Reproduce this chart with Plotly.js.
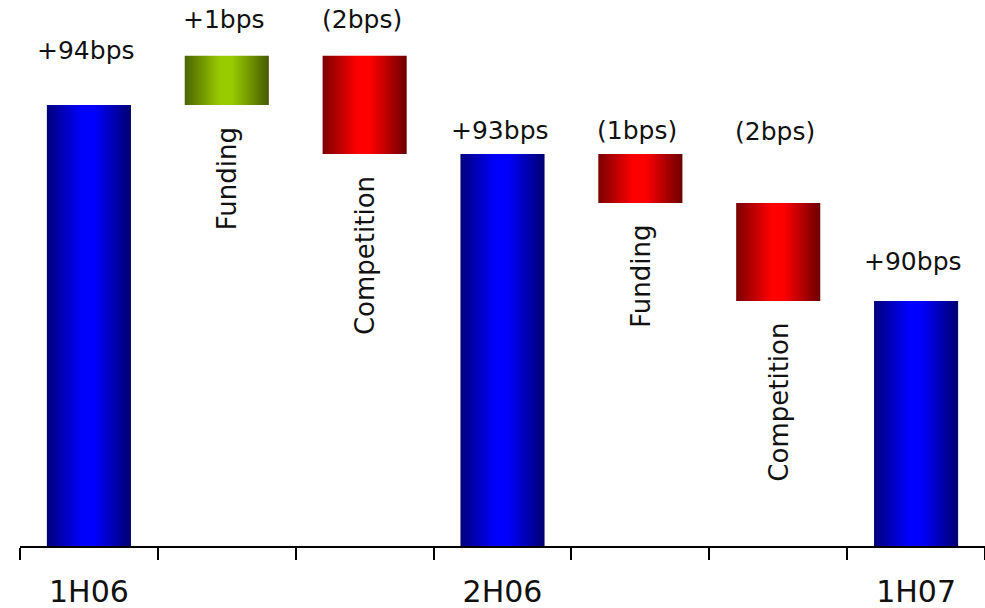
<!DOCTYPE html>
<html>
<head>
<meta charset="utf-8">
<script src="https://cdn.plot.ly/plotly-3.0.1.min.js"></script>
<style>
  html, body { margin: 0; padding: 0; background: #fff; }
  #chart { width: 985px; height: 608px; }
</style>
</head>
<body>
<div id="chart"></div>
<script>
// Net interest margin bridge, in basis points
const categories   = ['1H06', 'Funding', 'Competition', '2H06', 'Funding', 'Competition', '1H07'];
const axisLabels   = ['1H06', '', '', '2H06', '', '', '1H07'];
const stepKinds    = ['total', 'relative', 'relative', 'total', 'relative', 'relative', 'total'];
const stepValues   = [94, 1, -2, 93, -1, -2, 90];
const valueLabels  = ['+94bps', '+1bps', '(2bps)', '+93bps', '(1bps)', '(2bps)', '+90bps'];
const driverLabels = ['', 'Funding', 'Competition', '', 'Funding', 'Competition', ''];

// Axis floor that the totals stand on
const AXIS_FLOOR = 85;
const AXIS_TOP = 96.14;
const BAR_HALF = 0.305;

// Horizontal "cylinder" shading for each bar type
const shades = {
  total: [[0, '#00007c'], [0.42, '#0000ff'], [0.56, '#0000ff'], [1, '#000070']],
  up:    [[0, '#4b6300'], [0.42, '#99cc00'], [0.56, '#99cc00'], [1, '#465a00']],
  down:  [[0, '#7c0000'], [0.42, '#ff0000'], [0.56, '#ff0000'], [1, '#6c0000']]
};

// Label nudges (pixels above the upper edge of each bar)
const valueLift = [54, 36, 36, 23, 23, 71, 39];
const driverDrop = 20;

const traces = [];
const annotations = [];
let running = 0;

stepValues.forEach((v, i) => {
  let lo, hi, shade;
  if (stepKinds[i] === 'total') {
    running = v;
    lo = AXIS_FLOOR; hi = v; shade = shades.total;
  } else {
    const start = running;
    running = start + v;
    lo = Math.min(start, running);
    hi = Math.max(start, running);
    shade = v >= 0 ? shades.up : shades.down;
  }
  const x0 = i - BAR_HALF, x1 = i + BAR_HALF;
  traces.push({
    type: 'scatter',
    mode: 'lines',
    x: [x0, x1, x1, x0, x0],
    y: [lo, lo, hi, hi, lo],
    fill: 'toself',
    fillgradient: { type: 'horizontal', colorscale: shade },
    line: { width: 0 },
    hoverinfo: 'skip',
    showlegend: false,
    name: categories[i]
  });

  annotations.push({
    x: i, y: hi, xref: 'x', yref: 'y',
    text: valueLabels[i],
    showarrow: false,
    xanchor: 'center', yanchor: 'middle',
    xshift: -3, yshift: valueLift[i],
    font: { family: 'DejaVu Sans', size: 25, color: '#111' }
  });

  if (driverLabels[i]) {
    annotations.push({
      x: i, y: lo, xref: 'x', yref: 'y',
      text: driverLabels[i],
      showarrow: false,
      textangle: -90,
      xanchor: 'center', yanchor: 'top',
      xshift: 1,
      yshift: -driverDrop,
      font: { family: 'DejaVu Sans', size: 26, color: '#111' }
    });
  }
});

const boundaries = categories.map((_, i) => i - 0.5).concat([categories.length - 0.5]);
const labelPos = [], labelText = [];
axisLabels.forEach((t, i) => { if (t) { labelPos.push(i); labelText.push(t); } });

const layout = {
  width: 985,
  height: 608,
  margin: { l: 20, r: 0, t: 0, b: 62 },
  paper_bgcolor: '#ffffff',
  plot_bgcolor: '#ffffff',
  showlegend: false,
  xaxis: {
    range: [-0.5, categories.length - 0.5],
    showgrid: false,
    zeroline: false,
    showline: true,
    linecolor: '#000',
    linewidth: 2,
    tickmode: 'array',
    tickvals: labelPos,
    ticktext: labelText,
    ticks: '',
    ticklabelstandoff: 18,
    tickfont: { family: 'DejaVu Sans', size: 30, color: '#111' },
    minor: {
      tickmode: 'array',
      tickvals: boundaries,
      ticks: 'outside',
      ticklen: 12,
      tickwidth: 2,
      tickcolor: '#000',
      showgrid: false
    },
    fixedrange: true
  },
  yaxis: {
    range: [AXIS_FLOOR, AXIS_TOP],
    visible: false,
    fixedrange: true
  },
  annotations: annotations
};

Plotly.newPlot('chart', traces, layout, { displayModeBar: false, staticPlot: true });
</script>
</body>
</html>
